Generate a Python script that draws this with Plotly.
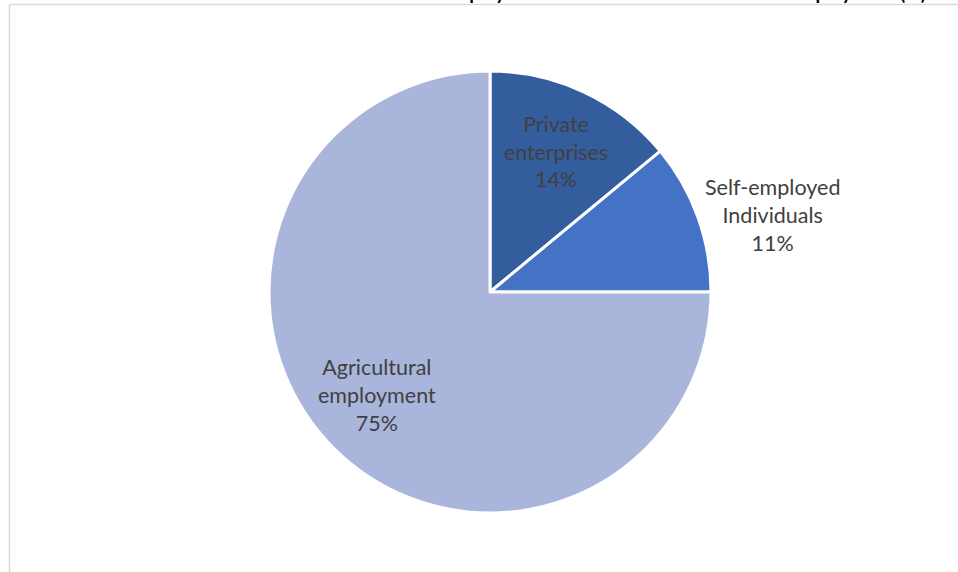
import math
import plotly.graph_objects as go

categories = ["Private<br>enterprises", "Self-employed<br>Individuals", "Agricultural<br>employment"]
values = [14, 11, 75]
colors = ["#345D9E", "#4472C4", "#A9B5DB"]

W, H = 958, 572
cx, cy, r = 490, 292, 221
FONT = "Lato, Carlito, sans-serif"
FS = 21.5
TXT = "#404040"

total = sum(values)
pct = [v / total for v in values]
# Only the first slice uses Plotly's inside text; the other two are annotations placed from slice mid-angles
templates = ["%{label}<br>%{percent:.0%}", " ", " "]

fig = go.Figure(go.Pie(
    labels=categories,
    values=values,
    sort=False,
    direction="clockwise",
    rotation=0,
    marker=dict(colors=colors, line=dict(color="white", width=3)),
    texttemplate=templates,
    textposition="inside",
    insidetextorientation="horizontal",
    textfont=dict(family=FONT, size=FS, color=TXT),
    domain=dict(x=[(cx - r) / W, (cx + r) / W], y=[1 - (cy + r) / H, 1 - (cy - r) / H]),
    showlegend=False,
    hoverinfo="label+percent",
))


def mid_angle(i):
    return (sum(pct[:i]) + pct[i] / 2) * 2 * math.pi


# Self-employed: outside label, left edge just beyond the slice rim
a1 = mid_angle(1)
ex = cx + r * math.sin(a1)
ey = cy - r * math.cos(a1)
# Agricultural: inside label
a2 = mid_angle(2)
lx = cx + 0.69 * r * math.sin(a2)
ly = cy - 0.69 * r * math.cos(a2)

fig.update_layout(
    width=W, height=H,
    margin=dict(l=0, r=0, t=0, b=0),
    paper_bgcolor="white",
    plot_bgcolor="white",
    shapes=[
        dict(type="line", xref="paper", yref="paper", x0=9.5 / W, x1=1.01, y0=1 - 4.5 / H, y1=1 - 4.5 / H,
             line=dict(color="#D9D9D9", width=1.5)),
        dict(type="line", xref="paper", yref="paper", x0=9.5 / W, x1=9.5 / W, y0=-0.01, y1=1 - 4.5 / H,
             line=dict(color="#D9D9D9", width=1.5)),
    ],
    annotations=[
        dict(text=f"{categories[1]}<br>{round(pct[1] * 100)}%",
             xref="paper", yref="paper", x=ex / W, y=1 - ey / H, xanchor="left", yanchor="middle",
             xshift=5, yshift=2, align="center",
             showarrow=False, font=dict(family=FONT, size=FS, color=TXT)),
        dict(text=f"{categories[2]}<br>{round(pct[2] * 100)}%",
             xref="paper", yref="paper", x=lx / W, y=1 - ly / H, xanchor="center", yanchor="middle",
             xshift=-5, yshift=5,
             showarrow=False, font=dict(family=FONT, size=FS, color=TXT)),
        dict(text="<b>Structure of employment in non-state sector and self-employment (%)</b>",
             xref="paper", yref="paper", x=928 / W, y=1 - 6 / H, xanchor="right", yanchor="bottom",
             showarrow=False, font=dict(family="Lato, sans-serif", size=19, color="black")),
    ],
)

fig.write_html("out.html")
